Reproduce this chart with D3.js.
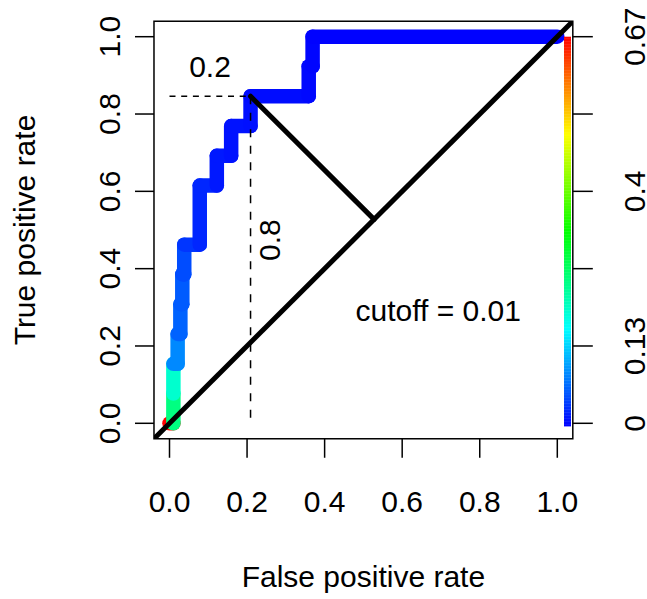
<!DOCTYPE html>
<html><head><meta charset="utf-8">
<script src="https://cdn.jsdelivr.net/npm/d3@7"></script>
<style>body{margin:0;background:#fff}svg{display:block}text{font-family:"Liberation Sans",Arial,sans-serif;fill:#000}</style>
</head><body>
<svg id="c" width="647" height="599"></svg>
<script>
// ROC curve points (false positive rate, true positive rate) and the cutoff of each segment start
const fpr    = [0, 0.01, 0.01, 0.01, 0.021, 0.021, 0.028, 0.028, 0.033, 0.033, 0.038, 0.038, 0.078, 0.078, 0.122, 0.122, 0.159, 0.159, 0.209, 0.209, 0.359, 0.359, 0.369, 0.369, 1.0];
const tpr    = [0, 0, 0.077, 0.154, 0.154, 0.231, 0.231, 0.308, 0.308, 0.385, 0.385, 0.462, 0.462, 0.615, 0.615, 0.692, 0.692, 0.769, 0.769, 0.846, 0.846, 0.923, 0.923, 1.0, 1.0];
const cutoff = [0.67, 0.25, 0.2, 0.09, 0.09, 0.065, 0.065, 0.06, 0.06, 0.05, 0.05, 0.035, 0.025, 0.025, 0.016, 0.016, 0.012, 0.012, 0.01, 0.008, 0.005, 0.005, 0.003, 0.001, 0];
const cutoffMax = 0.67;
const axisTicks = [0, 0.2, 0.4, 0.6, 0.8, 1.0];
const axisTickLabels = ["0.0", "0.2", "0.4", "0.6", "0.8", "1.0"];
const barTickLabels = ["0", "0.13", "", "0.4", "", "0.67"];
// optimal point annotation
const bestFpr = 0.209, bestTpr = 0.846, bestCutoff = 0.01;

const svg = d3.select("#c");
const x = d3.scaleLinear().domain([0, 1]).range([169.5, 557.3]);
const y = d3.scaleLinear().domain([0, 1]).range([423.3, 36.7]);
const x0 = x(-0.04), x1 = x(1.04), y0 = y(-0.04), y1 = y(1.04);
const hue = c => 240 * (1 - Math.max(0, Math.min(1, c / cutoffMax)));
const col = c => d3.hsl(hue(c), 1, 0.5).formatHex();

svg.append("defs").append("clipPath").attr("id", "clip")
  .append("rect").attr("x", x0).attr("y", y1).attr("width", x1 - x0).attr("height", y0 - y1);

// colored ROC curve
const segs = d3.range(fpr.length - 1).map(i => ({a: i, b: i + 1, c: cutoff[i]}));
svg.append("g").selectAll("line").data(segs).join("line")
  .attr("x1", d => x(fpr[d.a])).attr("y1", d => y(tpr[d.a]))
  .attr("x2", d => x(fpr[d.b])).attr("y2", d => y(tpr[d.b]))
  .attr("stroke", d => col(d.c)).attr("stroke-width", 14.5)
  .attr("stroke-linecap", "round");

// color bar
const nBar = 256;
const barY = d3.scaleLinear().domain([0, nBar]).range([y(-0.007), y(1)]);
svg.append("g").selectAll("rect").data(d3.range(nBar)).join("rect")
  .attr("x", 564).attr("width", 7)
  .attr("y", d => barY(d + 1)).attr("height", d => barY(d) - barY(d + 1) + 0.4)
  .attr("fill", d => col(cutoffMax * (d + 0.5) / nBar));

// box
svg.append("rect").attr("x", x0).attr("y", y1).attr("width", x1 - x0).attr("height", y0 - y1)
  .attr("fill", "none").attr("stroke", "#000").attr("stroke-width", 1.5);

// axes ticks
const tk = svg.append("g").attr("stroke", "#000").attr("stroke-width", 1.5);
tk.selectAll(".bx").data(axisTicks).join("line").attr("x1", d => x(d)).attr("x2", d => x(d)).attr("y1", y0).attr("y2", y0 + 19);
tk.selectAll(".ly").data(axisTicks).join("line").attr("y1", d => y(d)).attr("y2", d => y(d)).attr("x1", x0).attr("x2", x0 - 19);
tk.selectAll(".ry").data(axisTicks).join("line").attr("y1", d => y(d)).attr("y2", d => y(d)).attr("x1", x1).attr("x2", x1 + 20);

const fs = 30;
svg.append("g").selectAll("text").data(axisTicks).join("text")
  .attr("x", d => x(d)).attr("y", 511.5).attr("text-anchor", "middle").attr("font-size", fs)
  .text((d, i) => axisTickLabels[i]);
svg.append("g").selectAll("text").data(axisTicks).join("text")
  .attr("transform", d => `translate(120,${y(d)}) rotate(-90)`).attr("text-anchor", "middle").attr("font-size", fs)
  .text((d, i) => axisTickLabels[i]);
svg.append("g").selectAll("text").data(axisTicks).join("text")
  .attr("transform", d => `translate(645,${y(d)}) rotate(-90)`).attr("text-anchor", "middle").attr("font-size", fs)
  .text((d, i) => barTickLabels[i]);

svg.append("text").attr("x", x(0.5)).attr("y", 587).attr("text-anchor", "middle").attr("font-size", fs).text("False positive rate");
svg.append("text").attr("transform", `translate(35,${y(0.5)}) rotate(-90)`).attr("text-anchor", "middle").attr("font-size", fs).text("True positive rate");

// diagonal
svg.append("line").attr("clip-path", "url(#clip)")
  .attr("x1", x(-0.05)).attr("y1", y(-0.05)).attr("x2", x(1.05)).attr("y2", y(1.05))
  .attr("stroke", "#000").attr("stroke-width", 5);
// perpendicular from optimal point to diagonal
const mid = (bestFpr + bestTpr) / 2;
svg.append("line").attr("x1", x(bestFpr)).attr("y1", y(bestTpr)).attr("x2", x(mid)).attr("y2", y(mid))
  .attr("stroke", "#000").attr("stroke-width", 5).attr("stroke-linecap", "round");
// dashed guides
svg.append("line").attr("x1", x(0)).attr("y1", y(bestTpr)).attr("x2", x(bestFpr)).attr("y2", y(bestTpr))
  .attr("stroke", "#000").attr("stroke-width", 1.5).attr("stroke-dasharray", "6,5.7");
svg.append("line").attr("x1", x(bestFpr)).attr("y1", y(bestTpr)).attr("x2", x(bestFpr)).attr("y2", y(0))
  .attr("stroke", "#000").attr("stroke-width", 1.5).attr("stroke-dasharray", "8,8.5");

// annotations
svg.append("text").attr("x", x(bestFpr / 2)).attr("y", y(0.895)).attr("text-anchor", "middle").attr("font-size", fs)
  .text((1 - bestTpr).toFixed(1).replace(/^0\.2$/, "0.2"));
svg.append("text").attr("transform", `translate(${x(0.285)},${y(0.474)}) rotate(-90)`).attr("text-anchor", "middle").attr("font-size", fs)
  .text("0.8");
svg.append("text").attr("x", x(0.693)).attr("y", y(0.265)).attr("text-anchor", "middle").attr("font-size", fs)
  .text("cutoff = " + bestCutoff.toFixed(2));
</script>
</body></html>
